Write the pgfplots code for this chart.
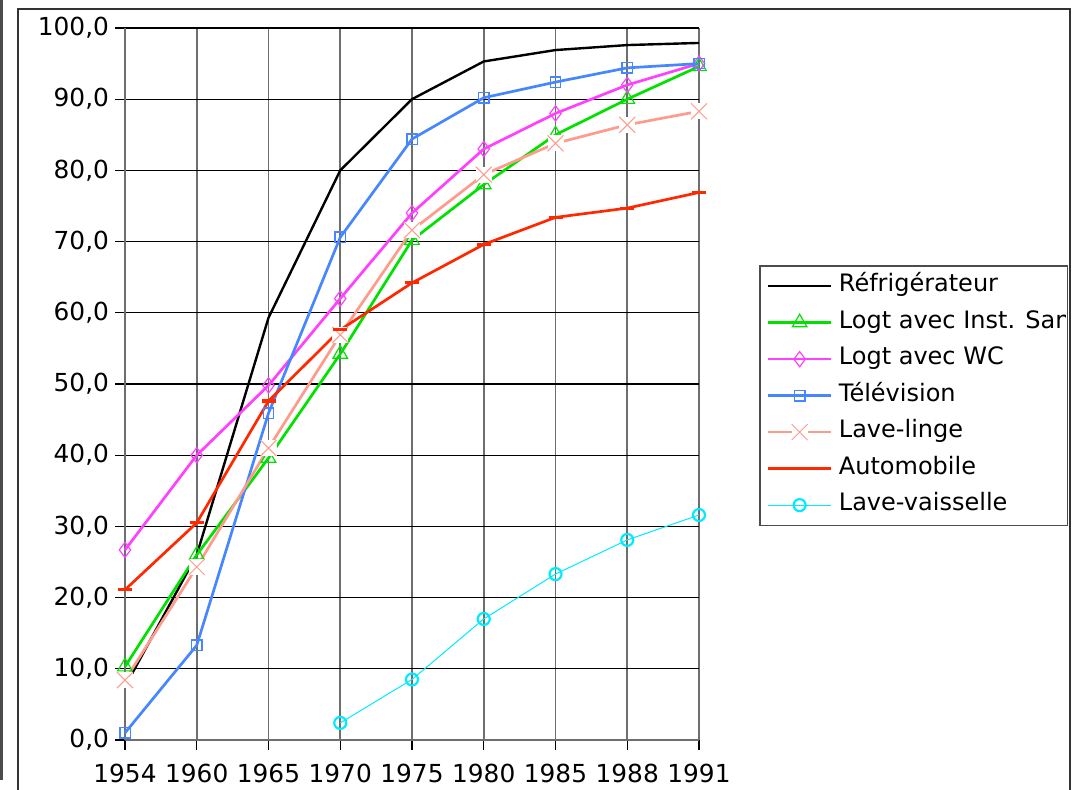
\documentclass[border=0pt]{standalone}
\usepackage{fontspec}
\setmainfont{DejaVu Sans}
\usepackage{pgfplots}
\pgfplotsset{compat=1.18}
\definecolor{cgreen}{RGB}{0,225,0}
\definecolor{cmag}{RGB}{255,64,255}
\definecolor{cblue}{RGB}{70,135,255}
\definecolor{csalmon}{RGB}{255,155,140}
\definecolor{cred}{RGB}{255,40,0}
\definecolor{ccyan}{RGB}{0,235,255}
\definecolor{gridgray}{RGB}{110,110,110}
\pgfdeclareplotmark{wx}{%
  \pgfpathrectangle{\pgfpoint{-\pgfplotmarksize}{-\pgfplotmarksize}}{\pgfpoint{2\pgfplotmarksize}{2\pgfplotmarksize}}%
  \pgfusepathqfill
  \pgfpathmoveto{\pgfpoint{-\pgfplotmarksize}{-\pgfplotmarksize}}%
  \pgfpathlineto{\pgfpoint{\pgfplotmarksize}{\pgfplotmarksize}}%
  \pgfpathmoveto{\pgfpoint{-\pgfplotmarksize}{\pgfplotmarksize}}%
  \pgfpathlineto{\pgfpoint{\pgfplotmarksize}{-\pgfplotmarksize}}%
  \pgfusepathqstroke}
\begin{document}
\begin{tikzpicture}
\useasboundingbox (0,0) rectangle (537.5pt,395pt);
\clip (0,0) rectangle (537.5pt,395pt);
\draw[line width=1.5pt, black!70] (0.75pt,5pt) -- (0.75pt,396pt);
\draw[line width=0.9pt, black!80] (9pt,-1pt) -- (9pt,390.5pt) -- (535pt,390.5pt) -- (535pt,-1pt);
\begin{axis}[
  at={(62.5pt,25pt)}, anchor=south west, scale only axis,
  width=287pt, height=356pt,
  xmin=0, xmax=8, ymin=0, ymax=100,
  xtick={0,...,8},
  xticklabels={1954,1960,1965,1970,1975,1980,1985,1988,1991},
  ytick={0,10,...,100},
  axis x line*=bottom, axis y line*=left,
  axis line style={gridgray, line width=0.8pt, -},
  xmajorgrids, ymajorgrids,
  x grid style={gridgray, line width=0.9pt},
  y grid style={black, line width=0.55pt},
  tick align=outside, major tick length=5pt,
  tick style={black, line width=0.6pt},
  tick label style={font=\fontsize{12.4}{14}\selectfont},
  xticklabel style={yshift=-3.5pt},
  yticklabel style={xshift=0.5pt, /pgf/number format/.cd, fixed, fixed zerofill, precision=1, use comma, 1000 sep={}, assume math mode=true},
  clip=false,
  legend image code/.code={\draw[mark repeat=2,mark phase=2] plot coordinates {(0pt,0pt) (15.75pt,0pt) (31.5pt,0pt)};},
  legend cell align=left,
  legend style={at={(1.1045,0.667)}, anchor=north west, draw=black!70, line width=0.8pt,
    font=\fontsize{12}{14}\selectfont, inner xsep=3.5pt, inner ysep=1pt, row sep=0pt,
    nodes={inner xsep=3pt, inner ysep=1pt, text height=11pt, text depth=5.25pt}},
]
\addplot[black, line width=1.2pt, no marks] coordinates {(0,7.5) (1,26) (2,59.3) (3,80) (4,90) (5,95.3) (6,96.9) (7,97.6) (8,97.9)};
\addlegendentry{Réfrigérateur}
\addplot[cgreen, line width=1.35pt, mark=triangle, mark size=4.2pt, mark options={fill=white, line width=0.6pt}] coordinates {(0,10.3) (1,26) (2,39.6) (3,54.2) (4,70.2) (5,78) (6,85) (7,90) (8,94.6)};
\addlegendentry{\tikz[baseline=0pt]{\useasboundingbox (0,0) rectangle (108pt,8pt); \clip (0,-5pt) rectangle (113.5pt,13pt); \node[anchor=base west, inner sep=0pt, text height=, text depth=] {Logt avec Inst. Sanitaire};}}
\addplot[cmag, line width=1.35pt, mark=diamond, mark size=3.8pt, mark options={fill=white, line width=0.6pt}] coordinates {(0,26.7) (1,40) (2,49.8) (3,62) (4,74) (5,83) (6,88) (7,92) (8,95)};
\addlegendentry{Logt avec WC}
\addplot[cblue, line width=1.35pt, mark=square, mark size=2.6pt, mark options={fill=white, line width=0.7pt}] coordinates {(0,1) (1,13.3) (2,45.9) (3,70.6) (4,84.4) (5,90.2) (6,92.4) (7,94.4) (8,95)};
\addlegendentry{Télévision}
\addplot[csalmon, line width=1.35pt, mark=wx, mark size=4pt, mark options={fill=white, line width=0.5pt}] coordinates {(0,8.4) (1,24.3) (2,41) (3,56.9) (4,71.6) (5,79.4) (6,83.8) (7,86.4) (8,88.3)};
\addlegendentry{Lave-linge}
\addplot[cred, line width=1.35pt, mark=-, mark size=3.5pt, mark options={line width=1.6pt}] coordinates {(0,21.1) (1,30.5) (2,47.6) (3,57.6) (4,64.2) (5,69.6) (6,73.4) (7,74.7) (8,76.9)};
\addlegendentry{Automobile}
\addplot[ccyan, line width=0.5pt, mark=o, mark size=3pt, mark options={fill=white, line width=1.1pt}] coordinates {(3,2.4) (4,8.5) (5,17) (6,23.3) (7,28.1) (8,31.6)};
\addlegendentry{Lave-vaisselle}
\end{axis}
\end{tikzpicture}
\end{document}
